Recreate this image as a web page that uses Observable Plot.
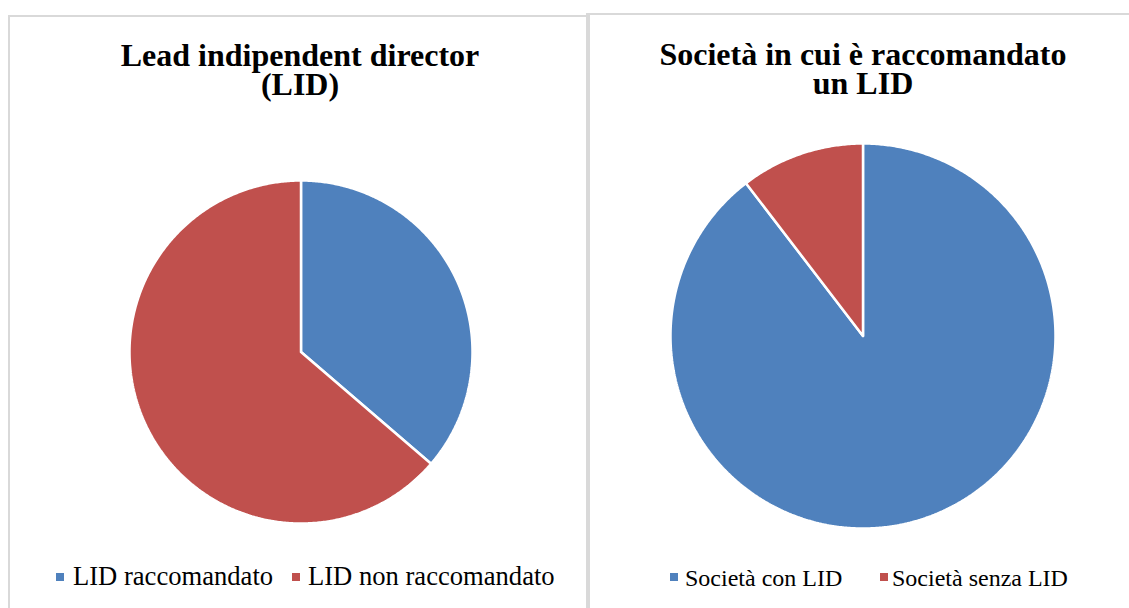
<!DOCTYPE html>
<html>
<head>
<meta charset="utf-8">
<script src="https://cdn.jsdelivr.net/npm/d3@7"></script>
<script src="https://cdn.jsdelivr.net/npm/@observablehq/plot@0.6"></script>
</head>
<body style="margin:0">
<div id="root"></div>
<script>
// ---- data ----
const leftTitle = ["Lead indipendent director", "(LID)"];
const leftCategories = ["LID raccomandato", "LID non raccomandato"];
const leftValues = [36.3, 63.7];

const rightTitle = ["Società in cui è raccomandato", "un LID"];
const rightCategories = ["Società con LID", "Società senza LID"];
const rightValues = [89.6, 10.4];

const seriesColors = ["#4F81BD", "#C0504D"];

// ---- helpers ----
const root = document.getElementById("root");

function place(el, left, top) {
  el.style.position = "absolute";
  el.style.left = left + "px";
  el.style.top = top + "px";
  root.appendChild(el);
  return el;
}

function panel(left, top, width, height) {
  const d = document.createElement("div");
  d.style.width = width + "px";
  d.style.height = height + "px";
  d.style.border = "2px solid #d9d9d9";
  d.style.boxSizing = "border-box";
  place(d, left, top);
}

function slicePoints(values, categories) {
  const total = d3.sum(values);
  let acc = 0;
  return values.map((v, i) => {
    const a0 = acc / total * 2 * Math.PI;
    acc += v;
    const a1 = acc / total * 2 * Math.PI;
    const n = Math.max(2, Math.ceil((a1 - a0) / (Math.PI / 360)));
    const pts = [{x: 0, y: 0, cat: categories[i]}];
    for (let k = 0; k <= n; k++) {
      const a = a0 + (a1 - a0) * k / n;
      pts.push({x: Math.sin(a), y: Math.cos(a), cat: categories[i]});
    }
    pts.push({x: 0, y: 0, cat: categories[i]});
    return pts;
  });
}

function pie(values, categories, r) {
  const m = 2;
  const slices = slicePoints(values, categories);
  const p = Plot.plot({
    width: 2 * r + 2 * m,
    height: 2 * r + 2 * m,
    margin: m,
    x: {domain: [-1, 1], axis: null},
    y: {domain: [-1, 1], axis: null},
    marks: slices.map((pts, i) =>
      Plot.line(pts, {x: "x", y: "y", fill: seriesColors[i], stroke: "white", strokeWidth: 2.5, strokeLinejoin: "miter", curve: "linear"})
    )
  });
  p.style.background = "transparent";
  return p;
}

// text line positioned by baseline (Liberation Serif ascent .891, descent .216)
function textLine(str, size, lh, bold, baseline, opts) {
  const d = document.createElement("div");
  d.textContent = str;
  d.style.fontFamily = "Liberation Serif";
  d.style.fontSize = size + "px";
  d.style.lineHeight = lh + "px";
  d.style.fontWeight = bold ? "bold" : "normal";
  d.style.color = "#000";
  d.style.whiteSpace = "nowrap";
  const top = baseline - (lh / 2 + 0.3375 * size);
  if (opts.center != null) {
    d.style.width = "600px";
    d.style.textAlign = "center";
    place(d, opts.center - 300, top);
  } else {
    place(d, opts.left, top);
  }
  return d;
}

function title(lines, cx, baselines) {
  lines.forEach((s, i) => textLine(s, 32, 29, true, baselines[i], {center: cx}));
}

function legend(categories, swatchX, textX, baseline, size, swatchTop) {
  categories.forEach((c, i) => {
    const sw = document.createElement("div");
    sw.style.width = "8px";
    sw.style.height = "8px";
    sw.style.background = seriesColors[i];
    place(sw, swatchX[i], swatchTop);
    textLine(c, size, size, false, baseline, {left: textX[i]});
  });
}

// ---- panels ----
panel(8, 15, 582, 610);
panel(586, 13, 560, 610);

// ---- left chart ----
title(leftTitle, 300, [66, 95]);
{
  const r = 171.5;
  place(pie(leftValues, leftCategories, r), 300 - r - 2, 351.5 - r - 2);
}
legend(leftCategories, [56, 292], [73, 308], 585, 26.6, 573);

// ---- right chart ----
title(rightTitle, 863, [65, 94]);
{
  const r = 192.5;
  place(pie(rightValues, rightCategories, r), 862.5 - r - 2, 335.5 - r - 2);
}
legend(rightCategories, [670, 880], [685, 892], 586.5, 24, 573);
</script>
</body>
</html>
